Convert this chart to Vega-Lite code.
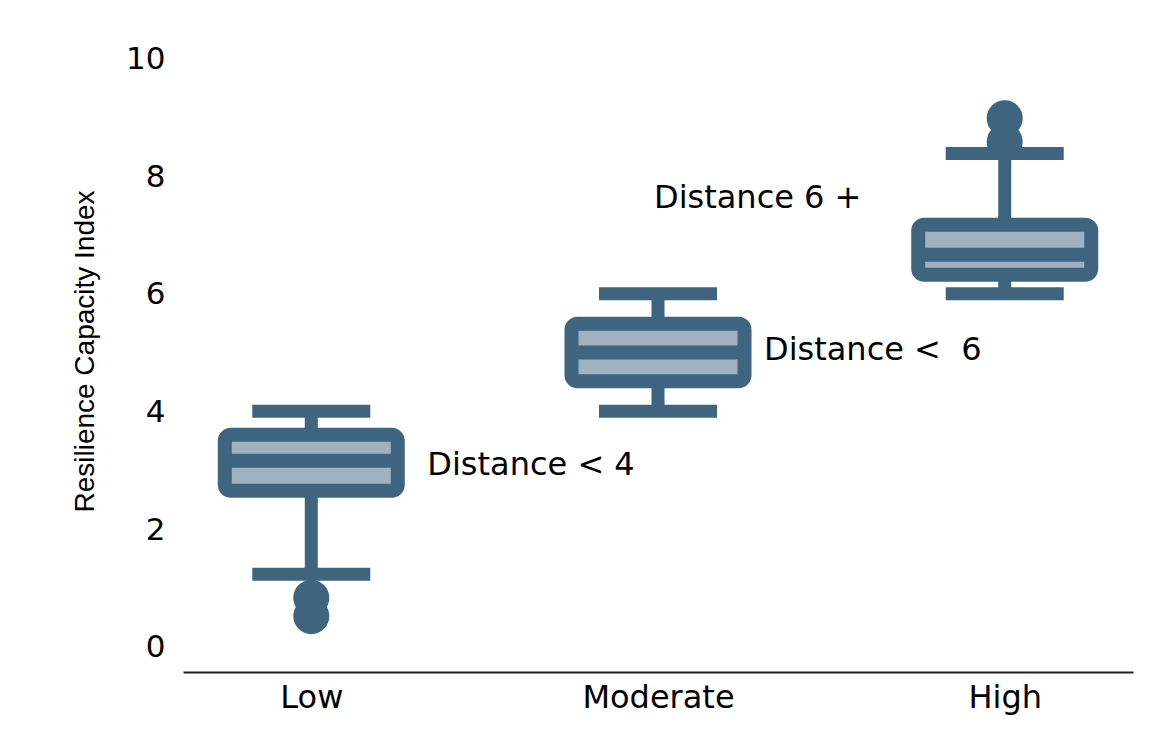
{
  "$schema": "https://vega.github.io/schema/vega-lite/v6.json",
  "width": 950,
  "height": 642,
  "autosize": {"type": "none"},
  "padding": {"left": 183, "top": 30, "right": 34, "bottom": 68},
  "background": "white",
  "config": {"view": {"stroke": null}},
  "datasets": {
    "boxes": [
      {"cat": "Low", "lo": 1.25, "q1": 2.67, "med": 3.18, "q3": 3.62, "hi": 4.02},
      {"cat": "Moderate", "lo": 4.02, "q1": 4.53, "med": 5.02, "q3": 5.51, "hi": 6.02},
      {"cat": "High", "lo": 6.02, "q1": 6.34, "med": 6.68, "q3": 7.19, "hi": 8.4}
    ],
    "outliers": [
      {"cat": "Low", "v": 0.85},
      {"cat": "Low", "v": 0.54},
      {"cat": "High", "v": 9.0},
      {"cat": "High", "v": 8.6}
    ],
    "labels": [
      {"cat": "Low", "v": 3.11, "text": "Distance < 4"},
      {"cat": "Moderate", "v": 5.07, "text": "Distance <\u00a0 6"},
      {"cat": "High", "v": 7.65, "text": "Distance 6 +"}
    ]
  },
  "encoding": {
    "x": {
      "field": "cat",
      "type": "nominal",
      "sort": ["Low", "Moderate", "High"],
      "scale": {"type": "point", "domain": ["Low", "Moderate", "High"], "padding": 0.37},
      "axis": {
        "title": null,
        "orient": "bottom",
        "domainColor": "#222222",
        "domainWidth": 2,
        "ticks": false,
        "grid": false,
        "labelAngle": 0,
        "labelFont": "DejaVu Sans",
        "labelFontSize": 32,
        "labelColor": "#000000",
        "labelPadding": 10
      }
    }
  },
  "layer": [
    {
      "data": {"name": "boxes"},
      "mark": {"type": "rule", "strokeWidth": 13, "color": "#3e6480"},
      "encoding": {
        "y": {
          "field": "lo",
          "type": "quantitative",
          "scale": {"domain": [-0.41, 10.5], "nice": false, "zero": false},
          "axis": {
            "values": [0, 2, 4, 6, 8, 10],
            "format": "d",
            "domain": false,
            "ticks": false,
            "grid": false,
            "labelFont": "DejaVu Sans",
            "labelFontSize": 31,
            "labelColor": "#000000",
            "labelPadding": 18,
            "title": "Resilience Capacity Index",
            "titleFont": "Liberation Sans",
            "titleFontSize": 28,
            "titleFontWeight": "normal",
            "titleColor": "#000000",
            "titleAngle": -90,
            "titleAlign": "center",
            "titleBaseline": "middle",
            "titleX": -98,
            "titleY": 321
          }
        },
        "y2": {"field": "hi"}
      }
    },
    {
      "data": {"name": "boxes"},
      "mark": {"type": "tick", "orient": "horizontal", "size": 118, "thickness": 13, "color": "#3e6480", "opacity": 1},
      "encoding": {"y": {"field": "lo", "type": "quantitative"}}
    },
    {
      "data": {"name": "boxes"},
      "mark": {"type": "tick", "orient": "horizontal", "size": 118, "thickness": 13, "color": "#3e6480", "opacity": 1},
      "encoding": {"y": {"field": "hi", "type": "quantitative"}}
    },
    {
      "data": {"name": "boxes"},
      "mark": {"type": "bar", "width": 173, "fill": "#a0b2bf", "stroke": "#3e6480", "strokeWidth": 14, "cornerRadius": 6, "opacity": 1},
      "encoding": {
        "y": {"field": "q1", "type": "quantitative"},
        "y2": {"field": "q3"}
      }
    },
    {
      "data": {"name": "boxes"},
      "mark": {"type": "tick", "orient": "horizontal", "size": 166, "thickness": 14, "color": "#3e6480", "opacity": 1},
      "encoding": {"y": {"field": "med", "type": "quantitative"}}
    },
    {
      "data": {"name": "outliers"},
      "mark": {"type": "circle", "size": 1300, "color": "#3e6480", "opacity": 1},
      "encoding": {"y": {"field": "v", "type": "quantitative"}}
    },
    {
      "data": {"name": "labels"},
      "transform": [{"filter": "datum.cat === 'Low'"}],
      "mark": {"type": "text", "align": "left", "baseline": "middle", "dx": 116, "font": "DejaVu Sans", "fontSize": 32, "color": "#000000"},
      "encoding": {"y": {"field": "v", "type": "quantitative"}, "text": {"field": "text"}}
    },
    {
      "data": {"name": "labels"},
      "transform": [{"filter": "datum.cat === 'Moderate'"}],
      "mark": {"type": "text", "align": "left", "baseline": "middle", "dx": 106, "font": "DejaVu Sans", "fontSize": 32, "color": "#000000"},
      "encoding": {"y": {"field": "v", "type": "quantitative"}, "text": {"field": "text"}}
    },
    {
      "data": {"name": "labels"},
      "transform": [{"filter": "datum.cat === 'High'"}],
      "mark": {"type": "text", "align": "center", "baseline": "middle", "dx": -247, "font": "DejaVu Sans", "fontSize": 32, "color": "#000000"},
      "encoding": {"y": {"field": "v", "type": "quantitative"}, "text": {"field": "text"}}
    }
  ]
}
